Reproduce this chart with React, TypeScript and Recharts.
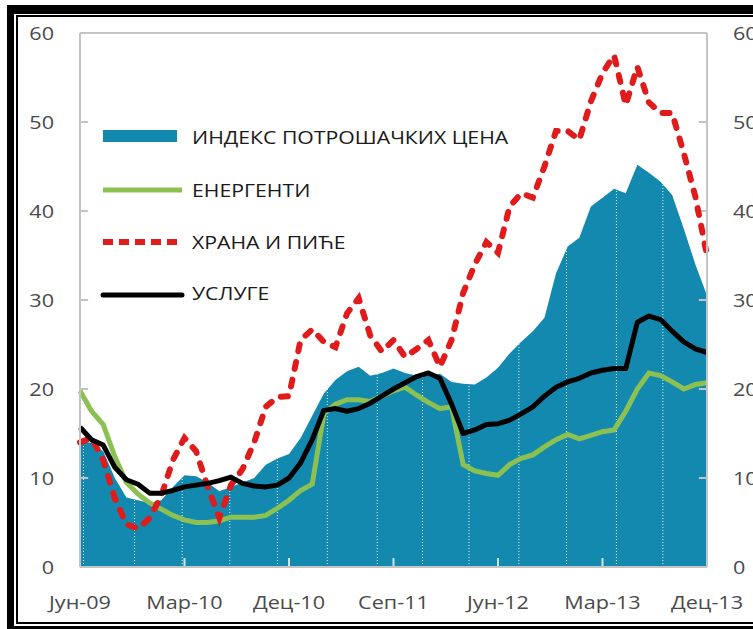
import React from 'react';
import { ComposedChart, Area, Line, XAxis, YAxis, ReferenceLine, Legend } from 'recharts';

// monthly, Jun-09 .. Dec-13 (55 points), y/y change in %
const cpi = [14, 14, 13, 10, 7.8, 7.5, 7.2, 7.5, 9, 10.3, 10.2, 9.5, 8.5, 9, 9.5, 10, 11.5, 12.2, 12.7, 14.5, 17, 19.5, 21, 22, 22.5, 21.5, 21.8, 22.3, 21.8, 21.5, 21.5, 21.7, 20.8, 20.6, 20.5, 21.3, 22.4, 24, 25.3, 26.5, 28, 33, 36, 37, 40.5, 41.5, 42.5, 42, 45.2, 44.3, 43.3, 41.8, 38, 34, 30.5];
const energy = [19.8, 17.5, 16, 12.4, 9.5, 8.2, 7.2, 6.5, 5.8, 5.3, 5.0, 5.0, 5.2, 5.6, 5.6, 5.6, 5.8, 6.6, 7.5, 8.6, 9.3, 17.2, 18.3, 18.8, 18.8, 18.6, 19.2, 19.8, 20.2, 19.3, 18.5, 17.8, 18, 11.5, 10.8, 10.5, 10.3, 11.5, 12.2, 12.6, 13.5, 14.3, 14.9, 14.4, 14.8, 15.2, 15.4, 17.5, 20, 21.8, 21.5, 20.8, 20, 20.5, 20.7];
const food = [14, 14.5, 12, 7.7, 4.8, 4.3, 5.5, 8, 12, 14.5, 13, 9, 5.5, 9.2, 11, 14, 18, 19.1, 19.2, 25.5, 26.7, 25.3, 24.7, 28.5, 30.2, 26, 24.2, 25.5, 23.6, 24.5, 25.5, 22.5, 25.5, 30.8, 34, 36.5, 35.3, 40.5, 42, 41.5, 45, 49, 49, 48, 52.3, 55.5, 57.5, 51.9, 56.2, 52.2, 51, 51, 46.5, 41.6, 35];
const services = [15.7, 14.3, 13.7, 11.2, 9.8, 9.3, 8.3, 8.3, 8.6, 9.0, 9.2, 9.4, 9.7, 10.1, 9.4, 9.1, 9.0, 9.2, 10, 11.7, 14.3, 17.6, 17.8, 17.5, 17.8, 18.4, 19.2, 20, 20.7, 21.4, 21.8, 21.2, 18.3, 15.0, 15.4, 16, 16.1, 16.5, 17.2, 18, 19.2, 20.2, 20.8, 21.2, 21.8, 22.1, 22.3, 22.3, 27.5, 28.2, 27.8, 26.5, 25.3, 24.5, 24.1];

const xTicks = [0, 9, 18, 27, 36, 45, 54];
const xTickLabels = ['Јун-09', 'Мар-10', 'Дец-10', 'Сеп-11', 'Јун-12', 'Мар-13', 'Дец-13'];
const yTicks = [0, 10, 20, 30, 40, 50, 60];
const gridMonths = [0.3, 4.7, 8.8, 12.9, 17, 21.3, 25.6, 29.5, 33.5, 37.8, 41.9, 46.2, 50.2];

const seriesNames = ['ИНДЕКС ПОТРОШАЧКИХ ЦЕНА', 'ЕНЕРГЕНТИ', 'ХРАНА И ПИЋЕ', 'УСЛУГЕ'];

const BLUE = '#1389b0';
const GREEN = '#8cc152';
const RED = '#e01b1b';
const AXIS = '#c4c4c4';
const TICK_TEXT = '#4a4a4a';
const FONT = '"Open Sans", sans-serif';
const STRETCH = 1.2;

const data = cpi.map((v, i) => ({
  m: i,
  cpi: v,
  energy: energy[i],
  food: food[i],
  services: services[i],
}));

const LeftTick = ({ x, y, payload }: any) => (
  <text transform={`translate(${x},${y}) scale(${STRETCH},1)`} textAnchor="end" dominantBaseline="central"
    fontSize={18} fill={TICK_TEXT} fontFamily={FONT}>{payload.value}</text>
);

const RightTick = ({ x, y, payload }: any) => (
  <text transform={`translate(${x},${y}) scale(${STRETCH},1)`} textAnchor="start" dominantBaseline="central"
    fontSize={18} fill={TICK_TEXT} fontFamily={FONT}>{payload.value}</text>
);

const BottomTick = ({ x, y, payload }: any) => (
  <text transform={`translate(${x},${y}) scale(${STRETCH},1)`} textAnchor="middle" dominantBaseline="central"
    fontSize={18} fill={TICK_TEXT} fontFamily={FONT}>{xTickLabels[xTicks.indexOf(payload.value)]}</text>
);

const renderLegend = () => (
  <svg width={450} height={200}>
    <rect x={8} y={15} width={74} height={12} fill={BLUE} />
    <line x1={8} x2={87} y1={75} y2={75} stroke={GREEN} strokeWidth={5} />
    <line x1={8} x2={87} y1={127} y2={127} stroke={RED} strokeWidth={6} strokeDasharray="10 6" />
    <line x1={8} x2={87} y1={180} y2={180} stroke="#000" strokeWidth={5} strokeLinecap="round" />
    {seriesNames.map((name, i) => (
      <text key={name} transform={`translate(97,${[22, 75, 127, 178][i]}) scale(1.18,1)`}
        dominantBaseline="central" fontSize={18} fill="#1a1a1a" fontFamily={FONT}>{name}</text>
    ))}
  </svg>
);

export default function App() {
  return (
    <div style={{ position: 'absolute', left: 0, top: 0, width: 753, height: 629, overflow: 'hidden', background: '#fff' }}>
      <div style={{ position: 'absolute', left: 7, top: 5, width: 800, height: 624, boxSizing: 'border-box', borderLeft: '7px solid #000', borderTop: '9px solid #000', borderBottom: '3px solid #000' }} />
      <div style={{ position: 'absolute', left: 16, top: 15, width: 800, height: 609, boxSizing: 'border-box', border: '2px solid #000' }} />
      <div style={{ position: 'absolute', left: 0, top: 0 }}>
        <ComposedChart width={753} height={629} data={data} margin={{ top: 33, right: 0, left: 0, bottom: 0 }}>
          <XAxis dataKey="m" type="number" domain={[0, 54]} ticks={xTicks} interval={0} height={62}
            tick={<BottomTick />} tickSize={0} tickMargin={35} axisLine={{ stroke: AXIS, strokeWidth: 2 }} tickLine={false} />
          <YAxis yAxisId="left" domain={[0, 60]} ticks={yTicks} interval={0} width={80} tick={<LeftTick />} tickSize={0} tickMargin={26}
            axisLine={{ stroke: AXIS, strokeWidth: 2 }} tickLine={false} />
          <YAxis yAxisId="right" orientation="right" domain={[0, 60]} ticks={yTicks} interval={0} width={46} tick={<RightTick />} tickSize={0} tickMargin={26}
            axisLine={{ stroke: AXIS, strokeWidth: 2 }} tickLine={false} />
          <Area yAxisId="left" dataKey="cpi" type="linear" fill={BLUE} fillOpacity={1} stroke="none" isAnimationActive={false} />
          {gridMonths.map((g) => (
            <ReferenceLine key={g} yAxisId="left" x={g} stroke="#ffffff" strokeOpacity={0.9} strokeWidth={1} strokeDasharray="1 2" />
          ))}
          {xTicks.slice(1, 6).map((t) => (
            <ReferenceLine key={'xt' + t} yAxisId="left" segment={[{ x: t, y: 0 }, { x: t, y: 1 }]} stroke="#cfe6ef" strokeWidth={2} />
          ))}
          {yTicks.slice(1, 6).map((t) => (
            <ReferenceLine key={'yl' + t} yAxisId="left" segment={[{ x: 0, y: t }, { x: 0.7, y: t }]} stroke={AXIS} strokeWidth={2} />
          ))}
          {yTicks.slice(1, 6).map((t) => (
            <ReferenceLine key={'yr' + t} yAxisId="left" segment={[{ x: 53.3, y: t }, { x: 54, y: t }]} stroke={AXIS} strokeWidth={2} />
          ))}
          <ReferenceLine yAxisId="left" y={60} stroke={AXIS} strokeWidth={2} />
          {/* keeps the right axis alive; draws nothing */}
          <Line yAxisId="right" dataKey="cpi" stroke="none" strokeWidth={0} dot={false} activeDot={false} legendType="none" isAnimationActive={false} />
          <Line yAxisId="left" dataKey="energy" type="linear" stroke={GREEN} strokeWidth={5} dot={false} isAnimationActive={false} />
          <Line yAxisId="left" dataKey="food" type="linear" stroke={RED} strokeWidth={6} strokeDasharray="7 11" strokeLinecap="round" dot={false} isAnimationActive={false} />
          <Line yAxisId="left" dataKey="services" type="linear" stroke="#000" strokeWidth={5} strokeLinejoin="round" dot={false} isAnimationActive={false} />
          <Legend content={renderLegend} layout="vertical" align="center" verticalAlign="middle"
            wrapperStyle={{ left: 95, top: 115, width: 450, height: 200 }} />
        </ComposedChart>
      </div>
    </div>
  );
}
